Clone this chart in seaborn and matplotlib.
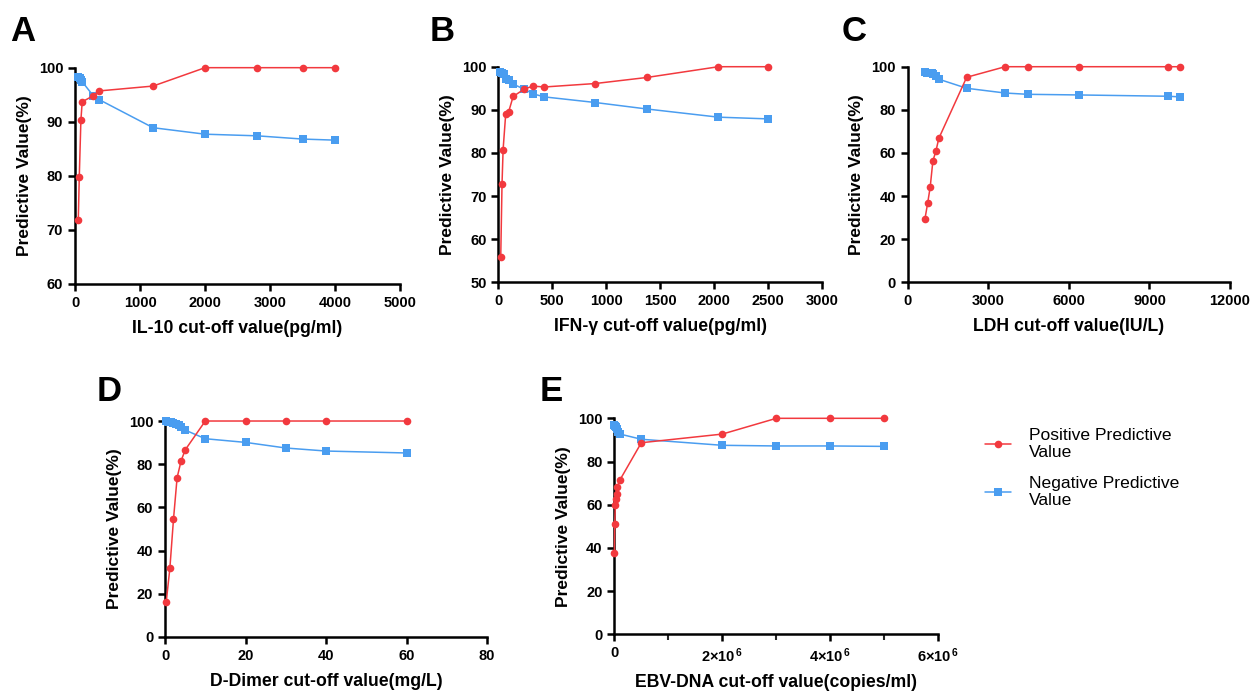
import matplotlib
matplotlib.use("Agg")
import matplotlib.pyplot as plt
import matplotlib.ticker as mticker
import seaborn as sns
import pandas as pd

# ---- data ----
# A: IL-10 (pg/ml)
il10_ppv_x = [50, 65, 90, 110, 280, 370, 1200, 2000, 2800, 3500, 4000]
il10_ppv_y = [71.9, 79.8, 90.3, 93.7, 94.8, 95.7, 96.6, 100, 100, 100, 100]
il10_npv_x = [50, 75, 90, 110, 280, 370, 1200, 2000, 2800, 3500, 4000]
il10_npv_y = [98.3, 98.0, 97.7, 97.4, 94.8, 94.1, 88.9, 87.7, 87.4, 86.8, 86.6]

# B: IFN-gamma (pg/ml)
ifn_ppv_x = [22, 34, 44, 68, 96, 137, 239, 319, 427, 898, 1375, 2040, 2500]
ifn_ppv_y = [55.8, 72.9, 80.8, 89.0, 89.6, 93.1, 94.8, 95.5, 95.3, 96.1, 97.5, 100, 100]
ifn_npv_x = [19, 34, 50, 72, 96, 134, 239, 322, 427, 898, 1375, 2040, 2500]
ifn_npv_y = [98.8, 98.6, 98.3, 97.1, 96.9, 96.0, 94.8, 93.7, 93.0, 91.7, 90.2, 88.3, 87.9]

# C: LDH (IU/L)
ldh_ppv_x = [640, 740, 837, 936, 1047, 1158, 2194, 3626, 4463, 6375, 9700, 10150]
ldh_ppv_y = [29.4, 36.6, 44.3, 56.3, 60.8, 66.8, 95.1, 100, 100, 100, 100, 100]
ldh_npv_x = [640, 725, 800, 888, 947, 1047, 1158, 2194, 3626, 4463, 6375, 9700, 10150]
ldh_npv_y = [97.4, 97.2, 97.1, 96.9, 96.6, 95.7, 94.2, 90.0, 87.8, 87.2, 86.9, 86.3, 86.0]

# D: D-Dimer (mg/L)
dd_ppv_x = [0.3, 1.2, 2.1, 3.0, 4.0, 5.0, 10, 20, 30, 40, 60]
dd_ppv_y = [16.3, 31.8, 54.5, 73.8, 81.6, 86.6, 100, 100, 100, 100, 100]
dd_npv_x = [0.3, 0.8, 1.4, 2.1, 2.7, 3.4, 4.0, 5.0, 10, 20, 30, 40, 60]
dd_npv_y = [100, 99.7, 99.4, 98.9, 98.5, 98.0, 97.1, 95.8, 91.8, 90.1, 87.5, 86.1, 85.2]

# E: EBV-DNA (copies/ml)
ebv_ppv_x = [1000, 7000, 19000, 31000, 44000, 56000, 100000, 500000, 2e6, 3e6, 4e6, 5e6]
ebv_ppv_y = [37.5, 50.9, 59.7, 62.5, 64.8, 68.3, 71.3, 88.7, 92.7, 100, 100, 100]
ebv_npv_x = [1000, 8000, 26000, 44000, 69000, 106000, 500000, 2e6, 3e6, 4e6, 5e6]
ebv_npv_y = [96.9, 96.4, 95.8, 94.9, 93.8, 92.7, 90.3, 87.5, 87.2, 87.2, 87.0]

RED = "#F2393E"
BLUE = "#4A9DF0"

sns.set_style("ticks")
plt.rcParams["font.family"] = ["Liberation Sans", "DejaVu Sans"]
plt.rcParams["text.color"] = "black"
plt.rcParams["axes.labelcolor"] = "black"
plt.rcParams["mathtext.fontset"] = "custom"
plt.rcParams["mathtext.bf"] = "Liberation Sans:bold"
plt.rcParams["mathtext.rm"] = "Liberation Sans"

fig = plt.figure(figsize=(12.55, 6.92), dpi=100)

panels = [
    # letter, axes rect, ppv, npv, xlim, xstep, ylim, ystep, xlabel
    ("A", [0.0598, 0.5896, 0.2590, 0.3126], (il10_ppv_x, il10_ppv_y), (il10_npv_x, il10_npv_y),
     (0, 5000), 1000, (60, 100), 10, "IL-10 cut-off value(pg/ml)"),
    ("B", [0.3971, 0.5920, 0.2579, 0.3116], (ifn_ppv_x, ifn_ppv_y), (ifn_npv_x, ifn_npv_y),
     (0, 3000), 500, (50, 100), 10, "IFN-γ cut-off value(pg/ml)"),
    ("C", [0.7233, 0.5920, 0.2568, 0.3116], (ldh_ppv_x, ldh_ppv_y), (ldh_npv_x, ldh_npv_y),
     (0, 12000), 3000, (0, 100), 20, "LDH cut-off value(IU/L)"),
    ("D", [0.1315, 0.0795, 0.2566, 0.3121], (dd_ppv_x, dd_ppv_y), (dd_npv_x, dd_npv_y),
     (0, 80), 20, (0, 100), 20, "D-Dimer cut-off value(mg/L)"),
    ("E", [0.4895, 0.0834, 0.2582, 0.3121], (ebv_ppv_x, ebv_ppv_y), (ebv_npv_x, ebv_npv_y),
     (0, 6e6), 2e6, (0, 100), 20, "EBV-DNA cut-off value(copies/ml)"),
]

letter_pos = {"A": (0.008, 0.941), "B": (0.342, 0.941), "C": (0.671, 0.941),
              "D": (0.077, 0.421), "E": (0.430, 0.421)}

handles = None
for letter, rect, ppv, npv, xlim, xstep, ylim, ystep, xlabel in panels:
    ax = fig.add_axes(rect)
    ppv_df = pd.DataFrame({"x": ppv[0], "y": ppv[1]})
    npv_df = pd.DataFrame({"x": npv[0], "y": npv[1]})
    sns.lineplot(data=npv_df, x="x", y="y", ax=ax, color=BLUE, marker="s", markersize=6,
                 markeredgewidth=0, linewidth=1.1, label="Negative Predictive\nValue",
                 clip_on=False, zorder=3)
    sns.lineplot(data=ppv_df, x="x", y="y", ax=ax, color=RED, marker="o", markersize=5.5,
                 markeredgewidth=0, linewidth=1.1, label="Positive Predictive\nValue",
                 clip_on=False, zorder=4)
    ax.set_xlim(*xlim)
    ax.set_ylim(*ylim)
    ax.xaxis.set_major_locator(mticker.MultipleLocator(xstep))
    ax.yaxis.set_major_locator(mticker.MultipleLocator(ystep))
    if letter == "E":
        ax.xaxis.set_minor_locator(mticker.MultipleLocator(1e6))
        ax.xaxis.set_major_formatter(mticker.FuncFormatter(
            lambda v, p: "0" if v == 0 else r"$\mathbf{%d{\times}10^{\,6}}$" % round(v / 1e6)))
        ax.tick_params(axis="x", which="minor", length=4, width=1.5, direction="out")
    sns.despine(ax=ax)
    for s in ["left", "bottom"]:
        ax.spines[s].set_linewidth(1.8)
        ax.spines[s].set_color("black")
    ax.tick_params(axis="both", which="major", length=5, width=1.8, direction="out",
                   labelsize=10.5, colors="black")
    for lab in ax.get_xticklabels() + ax.get_yticklabels():
        lab.set_fontweight("bold")
    ax.set_xlabel(xlabel, fontsize=12.7, fontweight="bold", labelpad=7)
    ax.set_ylabel("Predictive Value(%)", fontsize=12.5, fontweight="bold", labelpad=5)
    h, l = ax.get_legend_handles_labels()
    handles = (h, l)
    ax.get_legend().remove()
    fig.text(*letter_pos[letter], letter, fontsize=25, fontweight="bold", va="baseline")

h, l = handles
order = [1, 0]
leg = fig.legend([h[i] for i in order], [l[i] for i in order], loc="upper left",
                 bbox_to_anchor=(0.785, 0.382), frameon=False, fontsize=12.6, handlelength=1.5,
                 handletextpad=1.0, labelspacing=0.9, borderpad=0, borderaxespad=0)

fig.savefig("out.png", dpi=100)
